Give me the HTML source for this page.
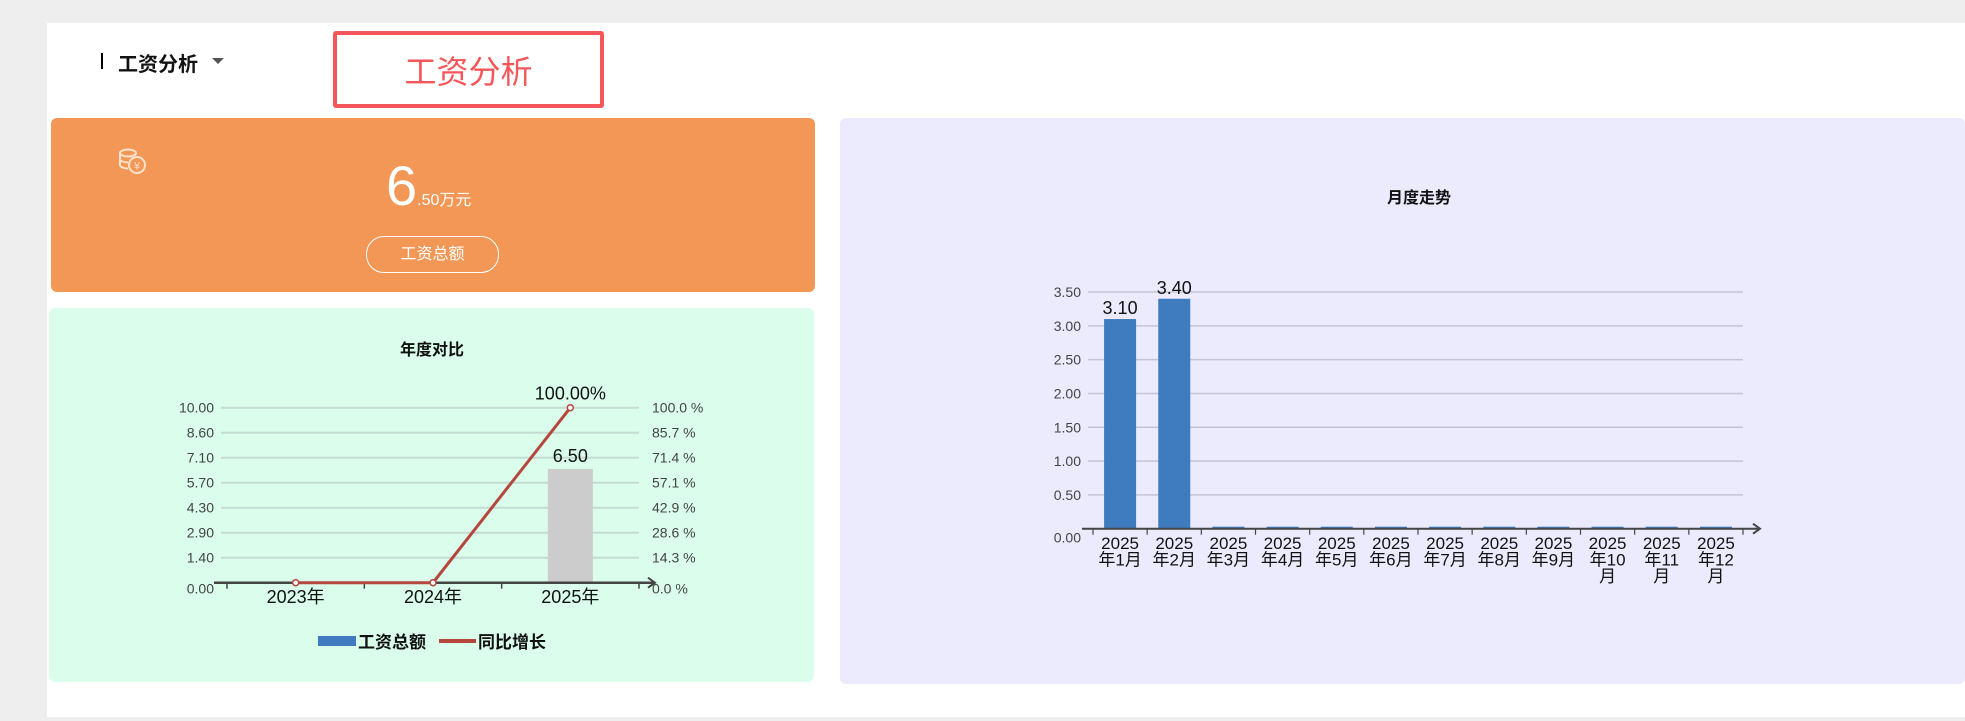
<!DOCTYPE html>
<html><head><meta charset="utf-8">
<style>
body{margin:0;width:1965px;height:721px;background:#eeeeee;position:relative;overflow:hidden;font-family:"Liberation Sans","Noto Sans CJK SC",sans-serif}
.abs{position:absolute}
svg text{font-family:"Liberation Sans","Noto Sans CJK SC",sans-serif}
</style></head><body>
<div class="abs" style="left:47px;top:23px;width:1918px;height:694px;background:#fff"></div>
<div class="abs" style="left:101px;top:53px;width:2px;height:16px;background:#000"></div>
<div class="abs" style="left:118px;top:48px;font-size:20px;font-weight:bold;color:#111">工资分析</div>
<div class="abs" style="left:212px;top:58px;width:0;height:0;border-left:6px solid transparent;border-right:6px solid transparent;border-top:6px solid #555"></div>
<div class="abs" style="left:333px;top:31px;width:263px;height:69px;border:4px solid #f5565a;border-radius:3px;color:#f5565a;font-size:32px;text-align:center;line-height:75px">工资分析</div>

<div class="abs" style="left:51px;top:118px;width:764px;height:174px;background:#f29755;border-radius:6px"></div>
<svg class="abs" style="left:117px;top:147px" width="32" height="30" viewBox="0 0 32 30"><g fill="none" stroke="#fde2cc" stroke-width="2"><ellipse cx="11" cy="6" rx="8" ry="3.5"/><path d="M3 6v12c0 2 4 3.5 8 3.5"/><path d="M3 12c0 2 4 3.5 8 3.5"/><circle cx="20" cy="18" r="8"/></g><text x="20" y="22.5" font-size="11" fill="#fde2cc" text-anchor="middle">¥</text></svg>
<div class="abs" style="left:386px;top:156px;width:100px;color:#fff;white-space:nowrap"><span style="font-size:56px;line-height:60px">6</span><span style="font-size:16px">.50万元</span></div>
<div class="abs" style="left:366px;top:236px;width:131px;height:35px;border:1.5px solid #fff;border-radius:18px;color:#fff;font-size:16px;text-align:center;line-height:35px">工资总额</div>

<div class="abs" style="left:49px;top:308px;width:765px;height:374px;background:#dafdec;border-radius:6px"></div>
<div class="abs" style="left:840px;top:118px;width:1125px;height:566px;background:#ebebfd;border-radius:6px"></div>

<svg class="abs" id="chart1" style="left:0;top:0" width="1965" height="721"></svg>
<svg class="abs" id="chart2" style="left:0;top:0" width="1965" height="721"></svg>

<script>
const yearCats=["2023年","2024年","2025年"];
const yearTotals=[0.05,0.05,6.5];
const yearGrowth=[0,0,100];
const leftTicks=["0.00","1.40","2.90","4.30","5.70","7.10","8.60","10.00"];
const rightTicks=["0.0 %","14.3 %","28.6 %","42.9 %","57.1 %","71.4 %","85.7 %","100.0 %"];
const growthLabels=["","","100.00%"];

const monthCats=["2025\n年1月","2025\n年2月","2025\n年3月","2025\n年4月","2025\n年5月","2025\n年6月","2025\n年7月","2025\n年8月","2025\n年9月","2025\n年10\n月","2025\n年11\n月","2025\n年12\n月"];
const monthVals=[3.1,3.4,0,0,0,0,0,0,0,0,0,0];
const monthTicks=["0.00","0.50","1.00","1.50","2.00","2.50","3.00","3.50"];
const monthTickVals=[0,0.5,1,1.5,2,2.5,3,3.5];

const NS="http://www.w3.org/2000/svg";
function mk(svg,tag,attrs,txt){const e=document.createElementNS(NS,tag);for(const k in attrs)e.setAttribute(k,attrs[k]);if(txt!==undefined)e.textContent=txt;svg.appendChild(e);return e;}

// chart 1
(function(){
const s=document.getElementById('chart1');
const x0=227,x1=639,y0=582.7,yTop=407.7;
const yL=v=>y0-(v/10)*(y0-yTop);
const yR=v=>y0-(v/100)*(y0-yTop);
const bw=(x1-x0)/yearCats.length;
const xc=i=>x0+bw*(i+0.5);
let t=mk(s,'text',{x:432,y:355,'font-size':16,'font-weight':'bold','text-anchor':'middle',fill:'#111'},'年度对比');

leftTicks.forEach((lb,i)=>{const y=y0-i*(y0-yTop)/(leftTicks.length-1);
 if(i>0){const g=mk(s,'line',{x1:221,x2:639,y1:y,y2:y,stroke:'#c5dcd3','stroke-width':2});}
 const a=mk(s,'text',{x:214,y:(i==0?y+11:y+5),'font-size':14,'text-anchor':'end',fill:'#444'},lb);
 const b=mk(s,'text',{x:652,y:(i==0?y+11:y+5),'font-size':14,fill:'#444'},rightTicks[i]);
});
yearTotals.forEach((v,i)=>{const col=i==2?'#cccccc':'#3f7cbf';const w=45;
 const r=mk(s,'rect',{x:xc(i)-w/2,y:yL(v),width:w,height:y0-yL(v),fill:col});
 if(v>1){const l=mk(s,'text',{x:xc(i),y:yL(v)-7,'font-size':18,'text-anchor':'middle',fill:'#111'},v.toFixed(2));}
 const c=mk(s,'text',{x:xc(i),y:603,'font-size':18,'text-anchor':'middle',fill:'#111'},yearCats[i]);
});
let ax=mk(s,'line',{x1:214,x2:653,y1:y0,y2:y0,stroke:'#444','stroke-width':2.5});
let ar=mk(s,'path',{d:`M648 ${y0-5} L655 ${y0} L648 ${y0+5}`,fill:'none',stroke:'#444','stroke-width':2});
for(let i=0;i<=yearCats.length;i++){const tk=mk(s,'line',{x1:x0+bw*i,x2:x0+bw*i,y1:y0,y2:y0+6,stroke:'#444','stroke-width':1.5});}
const pts=yearGrowth.map((v,i)=>xc(i)+','+yR(v)).join(' ');
let pl=mk(s,'polyline',{points:pts,fill:'none',stroke:'#b5463c','stroke-width':3});
yearGrowth.forEach((v,i)=>{const p=mk(s,'circle',{cx:xc(i),cy:yR(v),r:3,fill:'#fff',stroke:'#b5463c','stroke-width':1.5});
 if(growthLabels[i]){const l=mk(s,'text',{x:xc(i),y:yR(v)-8,'font-size':18,'text-anchor':'middle',fill:'#111'},growthLabels[i]);}});
let lg1=mk(s,'rect',{x:318,y:636,width:38,height:10,fill:'#3f7cbf'});
let lt1=mk(s,'text',{x:358,y:648,'font-size':17,'font-weight':'bold',fill:'#111'},'工资总额');
let lg2=mk(s,'rect',{x:439,y:639,width:37,height:4,fill:'#b5463c'});
let lt2=mk(s,'text',{x:478,y:648,'font-size':17,'font-weight':'bold',fill:'#111'},'同比增长');
})();

// chart 2
(function(){
const s=document.getElementById('chart2');
const x0=1093,x1=1743,y0=528.7,yTop=292,vmax=3.5;
const y=v=>y0-(v/vmax)*(y0-yTop);
const bw=(x1-x0)/monthCats.length;
const xc=i=>x0+bw*(i+0.5);
let t=mk(s,'text',{x:1419,y:203,'font-size':16,'font-weight':'bold','text-anchor':'middle',fill:'#111'},'月度走势');

monthTickVals.forEach((v,i)=>{
 if(v>0){const g=mk(s,'line',{x1:1088,x2:1743,y1:y(v),y2:y(v),stroke:'#c4c4d8','stroke-width':1.5});}
 const a=mk(s,'text',{x:1081,y:(v==0?y(v)+14:y(v)+5),'font-size':14,'text-anchor':'end',fill:'#444'},monthTicks[i]);
});
monthVals.forEach((v,i)=>{const w=32;const h=Math.max(y0-y(v),2);
 const r=mk(s,'rect',{x:xc(i)-w/2,y:y0-h,width:w,height:h,fill:'#3f7cbf'});
 if(v>0){const l=mk(s,'text',{x:xc(i),y:y(v)-5,'font-size':18,'text-anchor':'middle',fill:'#111'},v.toFixed(2));}
 monthCats[i].split('\n').forEach((ln,j)=>{const c=mk(s,'text',{x:xc(i),y:549+j*16.5,'font-size':17,'text-anchor':'middle',fill:'#111'},ln);});
});
let ax=mk(s,'line',{x1:1082,x2:1758,y1:y0,y2:y0,stroke:'#444','stroke-width':2});
let ar=mk(s,'path',{d:`M1753 ${y0-5} L1760 ${y0} L1753 ${y0+5}`,fill:'none',stroke:'#444','stroke-width':2});
for(let i=0;i<=monthCats.length;i++){const tk=mk(s,'line',{x1:x0+bw*i,x2:x0+bw*i,y1:y0,y2:y0+6,stroke:'#444','stroke-width':1.2});}
})();
</script>
</body></html>
